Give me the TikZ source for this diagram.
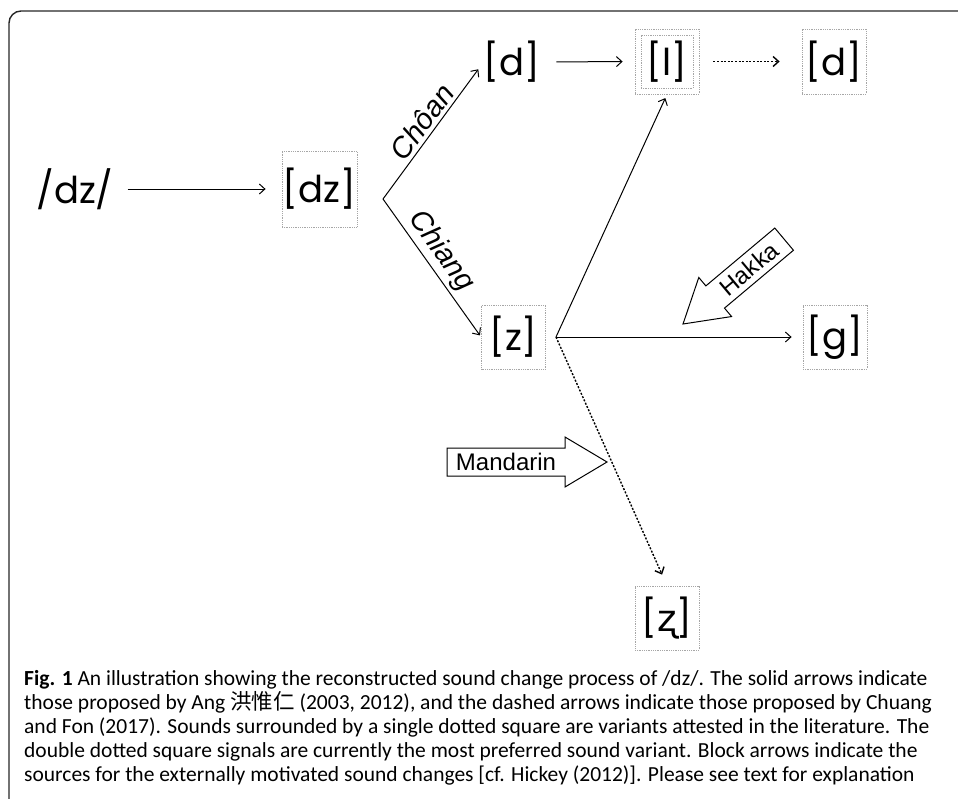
\documentclass[tikz,border=0pt]{standalone}
\usepackage{fontspec}
\setmainfont{Poppins}
\newfontfamily\capfont{Carlito}
\newfontfamily\cjkfont{Noto Sans CJK TC}
\newfontfamily\lblfont{Liberation Sans}
\newfontfamily\ipafont{DejaVu Sans}
\usetikzlibrary{arrows.meta}
\begin{document}
\begin{tikzpicture}[x=1pt,y=1pt,
  snd/.style={font=\fontsize{37}{40}\selectfont, inner sep=0pt},
  sbox/.style={snd, draw=gray!70, dash pattern=on 0.9pt off 0.9pt, line width=0.8pt, minimum width=64pt, minimum height=64pt},
  ibox/.style={draw=gray!70, dash pattern=on 0.9pt off 0.9pt, line width=0.8pt, inner sep=0pt},
  arr/.style={-{Straight Barb[length=5.5pt,width=10pt]}, line width=1pt},
  dotarr/.style={-{Straight Barb[length=5.5pt,width=10pt]}, line width=1.4pt, dash pattern=on 2pt off 1.6pt},
  blk/.style={draw, line width=1pt, fill=white, line join=miter},
  blklbl/.style={font=\lblfont\fontsize{24}{28}\selectfont, inner sep=0pt},
  lbl/.style={font=\lblfont\itshape\fontsize{29}{31}\selectfont, inner sep=3pt},
  captxt/.style={font=\capfont\fontsize{21.5}{24}\selectfont, anchor=base west, inner sep=0pt},
  ]
\useasboundingbox (0,0) rectangle (958,-798);
% frame
\draw[line width=1.4pt, draw=black!85, rounded corners=12pt] (9,-802) -- (9,-11) -- (962,-11);

% sound nodes
\node[snd] (dzs) at (75,-189) {/dz/};
\node[sbox, minimum width=75pt, minimum height=76pt] (dz) at (319.5,-189) {[dz]};
\node[snd] (d1) at (512,-62) {[d]};
\node[sbox, minimum height=65pt] (l) at (667,-61.5) {[l]};
\node[ibox, minimum width=52pt, minimum height=53pt] (lin) at (l.center) {};
\node[sbox, minimum height=65pt] (d2) at (834,-61.5) {[d]};
\node[sbox] (z) at (513.5,-337) {[z]};
\node[sbox] (g) at (835,-337) {[g]};
\node[sbox] (zr) at (667,-618) {[{\ipafont ʐ}]};

\coordinate (br) at (383,-199);
\coordinate (zb) at (556,-337);

% connectors
\draw[arr, shorten <=14pt, shorten >=16pt] (dzs.east) -- (dz.west);
\draw[arr, shorten <=16pt, shorten >=12pt] (d1.east) -- (l.west);
\draw[dotarr, shorten <=14pt, shorten >=22pt] (l.east) -- (d2.west);
\draw[arr, shorten >=9pt] (br) -- node[lbl, sloped, above, pos=0.5] {Chôan} (d1.west);
\draw[arr, shorten >=2pt] (br) -- node[lbl, sloped, above, pos=0.45] {Chiang} (z.west);
\draw[arr, shorten >=4pt] (zb) -- (l.south);
\draw[arr, shorten >=11pt] (zb) -- (g.west);
\draw[dotarr, shorten >=12pt] (zb) -- (zr.north);

% block arrows
\begin{scope}[shift={(683,-324)}, rotate=40]
\draw[blk] (0,0) -- (42,25.5) -- (42,14.5) -- (132,14.5) -- (132,-14.5) -- (42,-14.5) -- (42,-25.5) -- cycle;
\node[blklbl, rotate=40] (hakka) at (86,0) {Hakka};
\end{scope}
\draw[blk] (607,-462) -- (565,-437) -- (565,-448) -- (447,-448) -- (447,-476) -- (565,-476) -- (565,-487) -- cycle;
\node[blklbl] (mand) at (506,-462) {Mandarin};

% caption
\node[captxt] (c1) at (24,-685) {{\bfseries Fig. 1} An illustration showing the reconstructed sound change process of /dz/. The solid arrows indicate};
\node[captxt] (c2) at (24,-709) {those proposed by Ang {\cjkfont 洪惟仁} (2003, 2012), and the dashed arrows indicate those proposed by Chuang};
\node[captxt] (c3) at (24,-733) {and Fon (2017). Sounds surrounded by a single dotted square are variants attested in the literature. The};
\node[captxt] (c4) at (24,-757) {double dotted square signals are currently the most preferred sound variant. Block arrows indicate the};
\node[captxt] (c5) at (24,-781) {sources for the externally motivated sound changes [cf. Hickey (2012)]. Please see text for explanation};
\end{tikzpicture}
\end{document}
